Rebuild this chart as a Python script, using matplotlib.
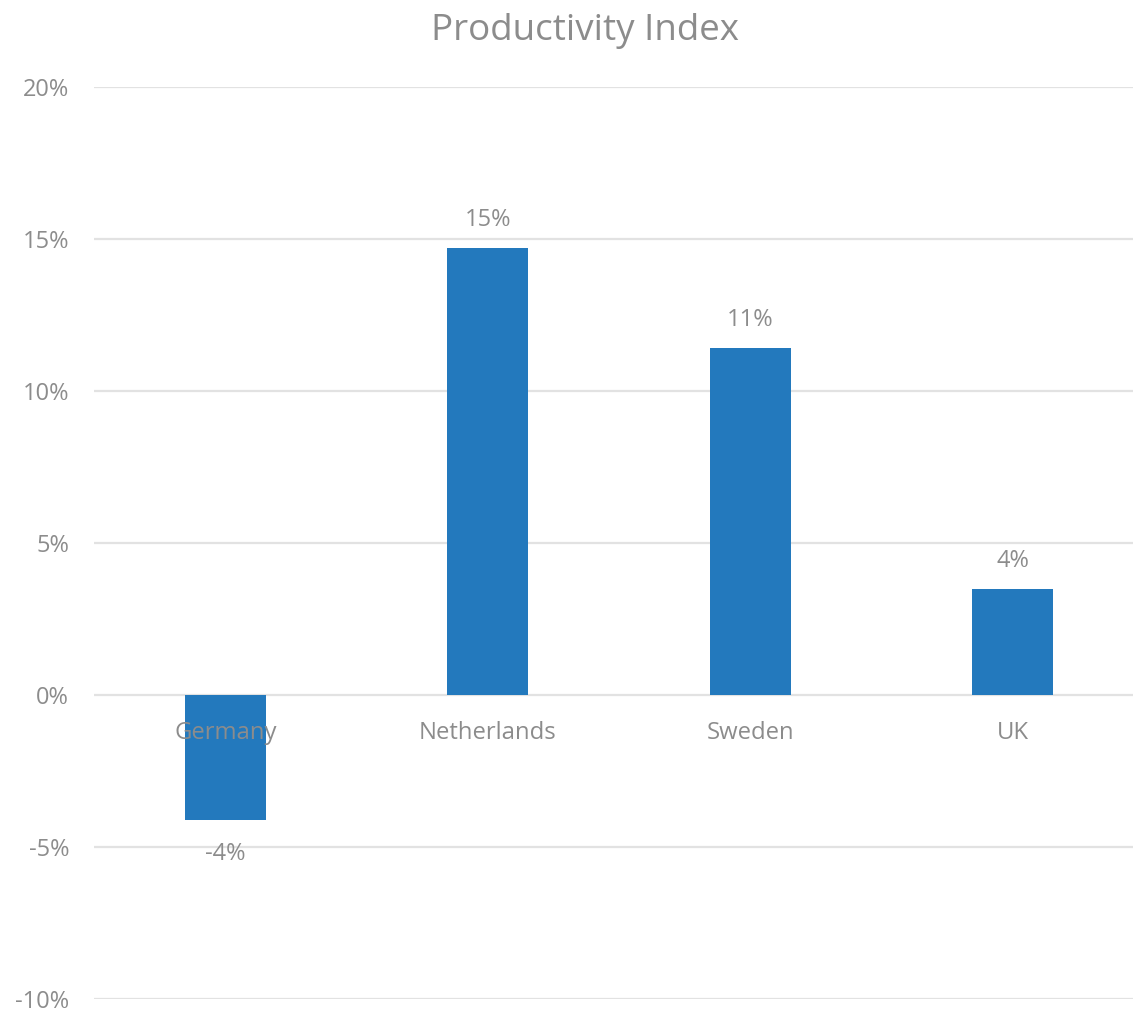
import matplotlib
matplotlib.use("Agg")
import matplotlib.pyplot as plt
from matplotlib.ticker import FuncFormatter

plt.rcParams['font.family'] = ['Open Sans', 'DejaVu Sans']

countries = ["Germany", "Netherlands", "Sweden", "UK"]
productivity = [-4.1, 14.7, 11.4, 3.5]
y_ticks = [-10, -5, 0, 5, 10, 15, 20]

W, H = 1133, 1010
fig = plt.figure(figsize=(W / 100, H / 100), dpi=100)
ax = fig.add_axes([94 / W, (H - 999) / H, (1144 - 94) / W, (999 - 87) / H])

text_color = "#8c8c8c"
bar_color = "#2379bd"

x = list(range(len(countries)))
bars = ax.bar(x, productivity, width=0.31, color=bar_color, zorder=3)

ax.set_xlim(-0.5, len(countries) - 0.5)
ax.set_ylim(-10, 20)
ax.set_yticks(y_ticks)
ax.yaxis.set_major_formatter(FuncFormatter(lambda v, p: f"{v:.0f}%"))
ax.grid(axis="y", color="#e2e2e2", linewidth=1.6, zorder=0)
for s in ax.spines.values():
    s.set_visible(False)
ax.tick_params(axis="y", length=0, pad=18, labelsize=17, labelcolor=text_color)
ax.set_xticks([])

# category labels sit just beneath the zero line
for xi, name in zip(x, countries):
    ax.annotate(name, (xi, 0), xytext=(0, -38), textcoords="offset pixels",
                ha="center", va="center", fontsize=17.2, color=text_color, zorder=4)

# value labels above positive bars, below negative ones
for xi, v in zip(x, productivity):
    off = 28 if v >= 0 else -34
    ax.annotate(f"{round(v):.0f}%", (xi, v), xytext=(0, off), textcoords="offset pixels",
                ha="center", va="center", fontsize=17, color=text_color, zorder=4)

fig.text(585 / W, 1 - 31 / H, "Productivity Index", ha="center", va="center",
         fontsize=26.5, color=text_color)

fig.savefig("out.png", dpi=100)
